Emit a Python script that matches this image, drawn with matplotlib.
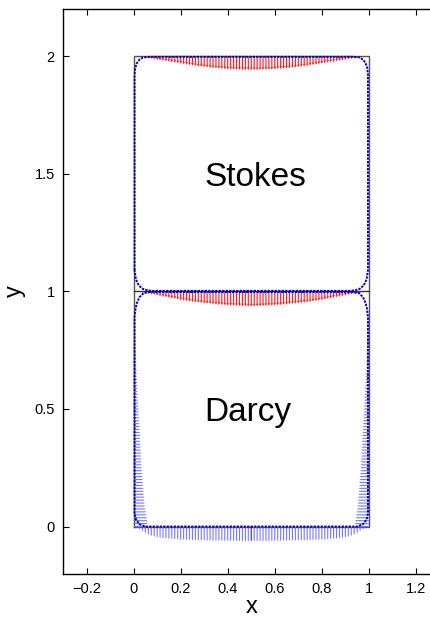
# Stokes-Darcy boundary velocity plot
import numpy as np
import matplotlib.pyplot as plt

plt.rcParams['font.family'] = ['Liberation Sans', 'DejaVu Sans']

# ---- DATA --------------------------------------------------------------------------------------------------------#
# domain edges
x_left, x_right = 0.0, 1.0
y_bottom, y_interface, y_top = 0.0, 1.0, 2.0

# downward arrow length on the Stokes top edge, x = 0 .. 0.5 (step 0.0125), mirrored
stokes_top_half = [0.000, 0.003, 0.005, 0.007, 0.009, 0.011, 0.013, 0.015, 0.017, 0.019,
                   0.021, 0.023, 0.025, 0.027, 0.029, 0.031, 0.033, 0.035, 0.037, 0.039,
                   0.041, 0.043, 0.045, 0.046, 0.048, 0.049, 0.051, 0.052, 0.053, 0.054,
                   0.055, 0.056, 0.057, 0.058, 0.058, 0.059, 0.059, 0.060, 0.060, 0.060, 0.060]

# downward arrow length on the interface (Stokes side), x = 0 .. 0.5, mirrored
interface_half = [0.000, 0.002, 0.004, 0.007, 0.010, 0.012, 0.014, 0.016, 0.019, 0.021,
                  0.024, 0.026, 0.028, 0.031, 0.033, 0.035, 0.038, 0.040, 0.042, 0.044,
                  0.046, 0.047, 0.049, 0.050, 0.052, 0.053, 0.054, 0.055, 0.057, 0.058,
                  0.059, 0.060, 0.061, 0.062, 0.062, 0.063, 0.063, 0.064, 0.064, 0.065, 0.065]

# downward arrow length below the Darcy bottom edge, x = 0 .. 0.5, mirrored
darcy_bottom_half = [0.000, 0.006, 0.012, 0.020, 0.028, 0.035, 0.040, 0.044, 0.047, 0.049,
                     0.051, 0.052, 0.053, 0.054, 0.055, 0.056, 0.057, 0.057, 0.058, 0.058,
                     0.059, 0.059, 0.060, 0.060, 0.060, 0.061, 0.061, 0.061, 0.061, 0.062,
                     0.062, 0.062, 0.062, 0.062, 0.063, 0.063, 0.063, 0.063, 0.063, 0.063, 0.063]

# inward arrow length on the Darcy side walls, y = 0 .. 1 (step 0.0125)
darcy_wall = [0.060, 0.060, 0.059, 0.057, 0.055, 0.053, 0.051, 0.049, 0.048,
              0.047, 0.046, 0.045, 0.044, 0.043, 0.042, 0.041, 0.040, 0.039, 0.038, 0.037, 0.036,
              0.035, 0.035, 0.034, 0.033, 0.033, 0.032, 0.031, 0.031, 0.030, 0.029, 0.029, 0.028,
              0.027, 0.027, 0.026, 0.025, 0.025, 0.024, 0.023, 0.023, 0.022, 0.021, 0.020,
              0.019, 0.019, 0.018, 0.018, 0.017, 0.016, 0.016, 0.015, 0.015, 0.014, 0.013, 0.013,
              0.012, 0.012, 0.011, 0.011, 0.010,
              0.009, 0.009, 0.008, 0.007, 0.007, 0.006, 0.005, 0.005, 0.004, 0.003, 0.003, 0.002,
              0.002, 0.001, 0.001, 0.001, 0.000, 0.000, 0.000, 0.000]

# traced boundary curves (dark blue)
stokes_ring_x = [0.004, 0.004, 0.007, 0.014, 0.025, 0.040, 0.07, 0.93, 0.96, 0.975, 0.986, 0.993, 0.996,
                 0.996, 0.99, 0.978, 0.96, 0.94, 0.92, 0.08, 0.06, 0.04, 0.022, 0.01, 0.004]
stokes_ring_y = [1.09, 1.92, 1.95, 1.97, 1.985, 1.994, 1.997, 1.997, 1.994, 1.985, 1.97, 1.95, 1.92,
                 1.09, 1.05, 1.025, 1.01, 1.004, 1.002, 1.002, 1.004, 1.01, 1.025, 1.05, 1.09]
darcy_ring_x = [0.004, 0.004, 0.008, 0.014, 0.025, 0.043, 0.07, 0.93, 0.957, 0.975, 0.986, 0.992, 0.996,
                0.996, 0.99, 0.975, 0.95, 0.05, 0.025, 0.01, 0.004]
darcy_ring_y = [0.055, 0.89, 0.925, 0.95, 0.975, 0.993, 0.997, 0.997, 0.993, 0.975, 0.95, 0.925, 0.89,
                0.055, 0.03, 0.01, 0.0, 0.0, 0.01, 0.03, 0.055]

region_labels = ['Stokes', 'Darcy']
x_ticks = [-0.2, 0, 0.2, 0.4, 0.6, 0.8, 1, 1.2]
y_ticks = [0, 0.5, 1, 1.5, 2]


def mirror(half):
    half = np.asarray(half)
    return np.concatenate([half, half[-2::-1]])


# ---- PLOT --------------------------------------------------------------------------------------------------------#
fig = plt.figure(figsize=(4.31, 6.18), dpi=100)
ax = fig.add_axes([0.1462, 0.0718, 0.8735, 0.9136])

xs = np.linspace(x_left, x_right, len(stokes_top_half) * 2 - 1)
ys = np.linspace(y_bottom, y_interface, len(darcy_wall))
zeros = np.zeros_like(xs)
wall = np.asarray(darcy_wall)

# domain outline
ax.plot([x_left, x_right, x_right, x_left, x_left], [y_bottom, y_bottom, y_top, y_top, y_bottom],
        color='#555555', lw=1.0, zorder=1)
ax.plot([x_left, x_right], [y_interface, y_interface], color='#333333', lw=1.0, zorder=1)

qkw = dict(angles='xy', scale_units='xy', scale=1, minlength=0, pivot='tail')
blue_kw = dict(alpha=0.85, width=0.003, headwidth=1, headlength=1, headaxislength=1, zorder=2)
red_kw = dict(color='#ff0000', alpha=0.9, width=0.003, headwidth=2.5, headlength=2.5,
              headaxislength=2.2, zorder=3)

# Darcy: light blue arrows on bottom and side walls
bottom_colors = ['#6060ff'] * len(xs)
bottom_colors[len(xs) // 2] = '#0000cc'
ax.quiver(xs, zeros + y_bottom, zeros, -mirror(darcy_bottom_half), color=bottom_colors, **blue_kw, **qkw)
ax.quiver(zeros + x_left, ys, wall, np.zeros_like(ys), color='#6060ff', **blue_kw, **qkw)
ax.quiver(zeros + x_right, ys, -wall, np.zeros_like(ys), color='#6060ff', **blue_kw, **qkw)

# Stokes: red arrows on top edge and interface
ax.quiver(xs, zeros + y_top, zeros, -mirror(stokes_top_half), **red_kw, **qkw)
ax.quiver(xs, zeros + y_interface, zeros, -mirror(interface_half), **red_kw, **qkw)

# dark blue boundary curves
ax.plot(stokes_ring_x, stokes_ring_y, color='#0000cc', lw=1.4, ls=(0, (1.2, 0.6)), zorder=4)
ax.plot(darcy_ring_x, darcy_ring_y, color='#0000cc', lw=1.4, ls=(0, (1.2, 0.6)), zorder=4)

ax.text(0.3, 1.5, region_labels[0], fontsize=24, ha='left', va='center_baseline')
ax.text(0.3, 0.5, region_labels[1], fontsize=24, ha='left', va='center_baseline')

ax.set_xlim(-0.3, 1.3)
ax.set_ylim(-0.2, 2.2)
ax.set_xticks(x_ticks)
ax.set_xticklabels(['\u22120.2', '0', '0.2', '0.4', '0.6', '0.8', '1', '1.2'])
ax.set_yticks(y_ticks)
ax.set_yticklabels(['0', '0.5', '1', '1.5', '2'])
ax.tick_params(direction='in', length=4, width=0.8, labelsize=10.5, top=True, right=True, pad=6)
for s in ax.spines.values():
    s.set_linewidth(1.0)
ax.set_xlabel('x', fontsize=17, labelpad=0)
ax.set_ylabel('y', fontsize=17, labelpad=6)

fig.savefig('out.png', dpi=100)
